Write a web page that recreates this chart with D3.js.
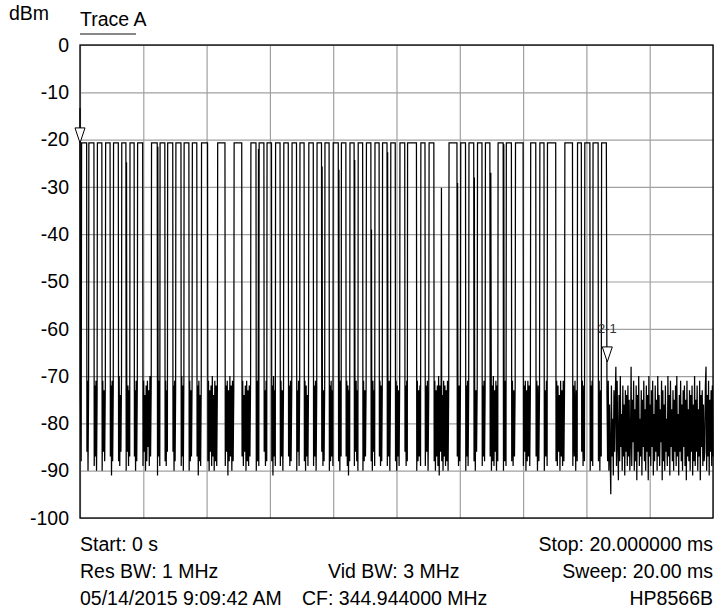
<!DOCTYPE html>
<html><head><meta charset="utf-8">
<script src="https://cdn.jsdelivr.net/npm/d3@7/dist/d3.min.js"></script>
<style>
body{margin:0;background:#fff}
text{font-family:Arial,"Liberation Sans",sans-serif;fill:#000}
</style>
</head><body>
<svg id="chart" width="714" height="614"></svg>
<script>
// ---------- data ----------
const yTicks = [0, -10, -20, -30, -40, -50, -60, -70, -80, -90, -100];
const xGridMs = [0, 2, 4, 6, 8, 10, 12, 14, 16, 18, 20];
const startMs = 0, stopMs = 20;
const highLevel = -20.7;            // dBm, level of the "on" pulses
const traceStart = [0, -13.3];      // first trace sample [ms, dBm]

// pulse [start ms, end ms]
const pulses = [
 [0.05,0.21],[0.28,0.44],[0.55,0.69],[0.81,0.95],[1.06,1.21],[1.32,1.45],[1.58,1.71],[1.82,1.98],
 [2.26,2.44],[2.53,2.68],[2.77,2.93],[3.03,3.19],[3.29,3.44],[3.55,3.69],[3.84,4.03],[4.35,4.58],
 [4.87,5.11],[5.40,5.56],[5.66,5.81],[5.91,6.05],[6.18,6.32],[6.44,6.58],[6.70,6.84],[6.95,7.08],
 [7.23,7.37],[7.49,7.63],[7.74,7.87],[8.00,8.16],[8.26,8.40],[8.53,8.66],[8.79,8.93],[9.05,9.19],
 [9.32,9.45],[9.56,9.70],[9.82,9.96],[10.11,10.26],[10.35,10.63],[10.77,10.90],[11.03,11.18],[11.66,11.91],
 [12.03,12.18],[12.29,12.44],[12.56,12.70],[12.81,12.95],[13.21,13.37],[13.47,13.63],[13.76,14.00],[14.24,14.40],
 [14.53,14.66],[14.77,15.03],[15.32,15.56],[15.72,15.84],[15.95,16.11],[16.21,16.37],[16.48,16.63]
];

// noise samples (dBm) in the "off" gap before each pulse
const gapNoise = [
 [-74,-88],
 [-86,-71,-90,-73],
 [-89,-72,-87,-71,-90,-74],
 [-90,-71,-86,-73,-88,-72],
 [-87,-72,-91,-71,-88,-73],
 [-88,-70,-89,-74,-86,-71],
 [-90,-71,-86,-72,-89,-73,-87],
 [-87,-73,-90,-71,-88,-72],
 [-89,-71,-86,-74,-90,-72,-88,-71,-85,-73,-89,-70,-87,-72],
 [-91,-72,-87,-71,-89],
 [-88,-71,-89,-73,-86],
 [-86,-72,-90,-71,-88,-73],
 [-89,-70,-87,-72,-90,-71],
 [-90,-71,-88,-73,-87,-72],
 [-87,-72,-91,-71,-88,-74,-89,-72],
 [-88,-71,-90,-73,-86,-72,-89,-70,-87,-74,-90,-71,-88,-72,-89,-73],
 [-89,-72,-86,-71,-91,-73,-88,-70,-87,-72,-90,-71,-88,-73],
 [-87,-71,-89,-74,-86,-72,-90,-71,-88,-73,-89,-72,-87,-71],
 [-90,-71,-88,-72,-89],
 [-86,-73,-89,-71,-88],
 [-88,-72,-91,-70,-87,-73,-89],
 [-89,-71,-87,-73,-90,-72],
 [-87,-72,-89,-71,-88,-73],
 [-90,-73,-86,-71,-89,-72],
 [-88,-71,-90,-72,-87,-74,-89,-71],
 [-89,-72,-87,-71,-90,-73],
 [-86,-71,-89,-73,-88,-72],
 [-90,-72,-88,-71,-87,-73,-89],
 [-88,-73,-90,-71,-87],
 [-87,-71,-89,-72,-91,-73,-88],
 [-89,-72,-86,-71,-88,-73,-90],
 [-90,-71,-88,-73,-87,-72],
 [-88,-72,-90,-71,-86,-73,-89],
 [-87,-71,-89,-72,-88,-73],
 [-89,-73,-87,-71,-90,-72],
 [-88,-71,-90,-72,-87,-73,-89,-71],
 [-86,-72,-89,-71,-88],
 [-90,-71,-88,-73,-87,-72,-89],
 [-89,-72,-86,-71,-90,-73],
 [-88,-71,-90,-73,-87,-72,-89,-70,-91,-72,-86,-71,-88,-74,-90,-71,-87,-72,-89,-73,-88,-71,-90,-72],
 [-87,-71,-89,-72,-88,-73],
 [-90,-72,-87,-71,-89,-73],
 [-88,-71,-90,-73,-86,-72],
 [-89,-72,-87,-71,-88,-73],
 [-87,-71,-90,-72,-88,-70,-89,-73,-86,-71,-90,-72,-88],
 [-90,-72,-88,-71,-89],
 [-88,-71,-89,-73,-87,-72],
 [-89,-72,-86,-71,-90,-73,-88,-71,-87,-72,-89,-73],
 [-87,-71,-90,-72,-88,-73],
 [-90,-73,-87,-71,-89],
 [-88,-71,-89,-72,-86,-74,-90,-71,-87,-73,-89,-71,-88,-72],
 [-89,-72,-87,-71,-90,-73,-88],
 [-86,-71,-89,-72,-88],
 [-90,-72,-88,-71,-89],
 [-88,-71,-90,-73,-87]
];

// noise after the last pulse, up to the stop time
const tailNoise = [
 -74,-88,-71,-90,-76,-87,-95,-72,-87,-79,
 -91,-73,-86,-75,-68,-89,-71,-84,-92,-74,
 -88,-70,-85,-78,-90,-72,-87,-76,-91,-73,
 -86,-74,-89,-72,-87,-75,-90,-84,-68,-89,
 -75,-84,-71,-90,-77,-88,-72,-92,-74,-86,
 -70,-89,-79,-87,-73,-91,-75,-85,-71,-88,
 -77,-90,-72,-86,-74,-92,-70,-87,-76,-89,
 -73,-85,-71,-91,-78,-88,-72,-86,-75,-90,
 -70,-87,-74,-89,-77,-84,-71,-92,-73,-88,
 -76,-90,-72,-86,-79,-89,-70,-87,-74,-91,
 -71,-85,-77,-88,-73,-90,-75,-86,-72,-89,
 -70,-87,-78,-91,-74,-86,-71,-88,-76,-90,
 -73,-85,-72,-89,-75,-92,-71,-87,-77,-88,
 -73,-90,-74,-86,-72,-91,-76,-88,-70,-89,
 -75,-86,-72,-90,-77,-87,-71,-92,-74,-85,
 -73,-89,-76,-88,-86,-72,-68,-90,-74,-87,
 -71,-91,-75,-86,-73,-89,-72,-87
];

// isolated partial-height samples [ms, dBm]
const spikes = [
 [1.47,-24.8],[2.46,-21.5],[5.64,-22.0],[7.65,-25.7],[8.18,-26.4],[8.68,-24.3],[9.21,-39.0],
 [9.72,-22.7],[11.42,-30.2],[11.93,-29.2],[12.46,-28.0],[12.98,-27.0],[13.39,-21.0]
];

const markers = [
 {label: "", t: 0, dbm: -20.7},
 {label: "2-1", t: 16.66, dbm: -67.0}
];

const footLeft  = ["Start: 0 s", "Res BW: 1 MHz", "05/14/2015 9:09:42 AM"];
const footMid   = ["", "Vid BW: 3 MHz", "CF: 344.944000 MHz"];
const footRight = ["Stop: 20.000000 ms", "Sweep: 20.00 ms", "HP8566B"];

// ---------- build trace ----------
const trace = [traceStart];
let prevEnd = startMs;
pulses.forEach((p, i) => {
  const g = gapNoise[i], span = p[0] - prevEnd;
  g.forEach((v, k) => trace.push([prevEnd + (k + 0.5) * span / g.length, v]));
  trace.push([p[0], highLevel], [p[1], highLevel]);
  prevEnd = p[1];
});
tailNoise.forEach((v, k) => trace.push([prevEnd + (k + 1) * (stopMs - prevEnd) / tailNoise.length, v]));
spikes.forEach(s => trace.push(s));
trace.sort((a, b) => a[0] - b[0]);

// ---------- draw ----------
const L = 80, R = 713, T = 45, B = 518;
const svg = d3.select("#chart");
const x = d3.scaleLinear().domain([startMs, stopMs]).range([L, R]);
const y = d3.scaleLinear().domain([0, -100]).range([T, B]);
const FS = "19.5px";

// grid
svg.append("g").attr("transform", `translate(0,${B})`)
  .call(d3.axisBottom(x).tickValues(xGridMs).tickSize(-(B - T)).tickFormat(""))
  .call(g => g.select(".domain").remove())
  .call(g => g.selectAll("line").attr("stroke", "#a0a0a0").attr("stroke-width", 1.2));
svg.append("g").attr("transform", `translate(${L},0)`)
  .call(d3.axisLeft(y).tickValues(yTicks).tickSize(-(R - L)).tickPadding(11).tickFormat(d3.format("d")))
  .call(g => g.select(".domain").remove())
  .call(g => g.selectAll("line").attr("stroke", "#a0a0a0").attr("stroke-width", 1.2))
  .call(g => g.selectAll("text").attr("font-size", FS).attr("fill", "#000")
        .attr("font-family", "Arial, 'Liberation Sans', sans-serif")
        .text(d => d === 0 ? "0" : String(d)));

// frame
svg.append("rect").attr("x", L).attr("y", T).attr("width", R - L).attr("height", B - T)
  .attr("fill", "none").attr("stroke", "#000").attr("stroke-width", 1.3);

// trace
svg.append("path").datum(trace)
  .attr("d", d3.line().x(d => x(d[0])).y(d => y(d[1])))
  .attr("fill", "none").attr("stroke", "#000").attr("stroke-width", 1.25)
  .attr("stroke-linejoin", "miter");

// markers
markers.forEach(m => {
  const mx = x(m.t), my = y(m.dbm);
  svg.append("path")
    .attr("d", `M${mx - 5},${my - 15}L${mx + 5},${my - 15}L${mx},${my}Z`)
    .attr("fill", "#fff").attr("stroke", "#000").attr("stroke-width", 1);
  if (m.label) svg.append("text").attr("x", mx).attr("y", my - 29)
    .attr("text-anchor", "middle").attr("font-size", "13px").style("fill", "#333").text(m.label);
});

// titles
svg.append("text").attr("x", 9).attr("y", 19.5).attr("font-size", FS).text("dBm");
svg.append("text").attr("x", 80).attr("y", 26).attr("font-size", FS).text("Trace A");
svg.append("rect").attr("x", 80).attr("y", 33).attr("width", 56).attr("height", 2).attr("fill", "#888");

// footer
const rows = [551, 578, 605];
rows.forEach((ry, i) => {
  svg.append("text").attr("x", L).attr("y", ry).attr("font-size", FS).text(footLeft[i]);
  if (footMid[i]) svg.append("text").attr("x", i === 1 ? 328 : 302).attr("y", ry).attr("font-size", FS).text(footMid[i]);
  svg.append("text").attr("x", R).attr("y", ry).attr("text-anchor", "end").attr("font-size", FS).text(footRight[i]);
});
</script>
</body></html>
